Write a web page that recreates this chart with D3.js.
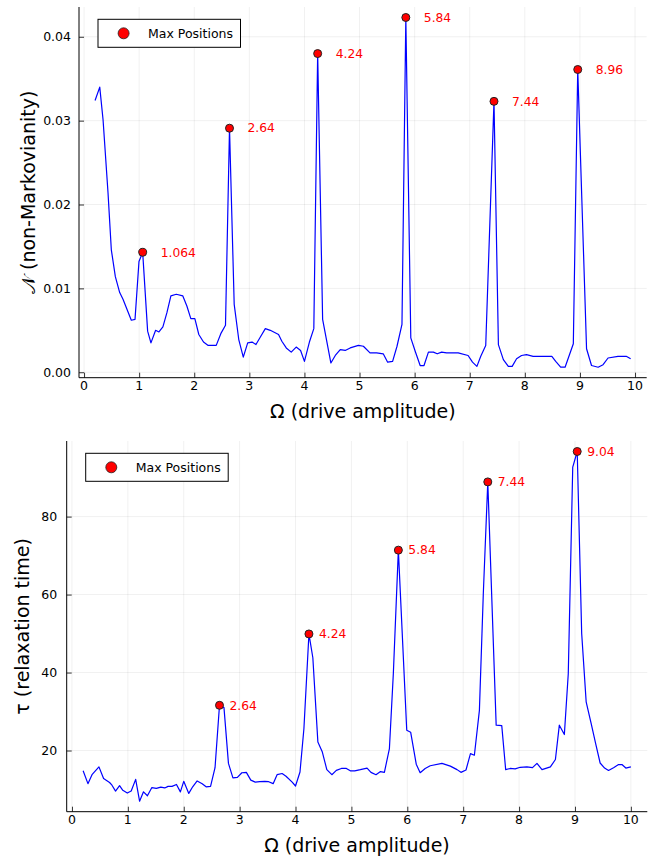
<!DOCTYPE html>
<html>
<head>
<meta charset="utf-8">
<script src="https://cdn.jsdelivr.net/npm/d3@7"></script>
<style>
  html, body { margin: 0; padding: 0; background: #fff; }
  svg { display: block; font-family: "DejaVu Sans", sans-serif; }
</style>
</head>
<body>
<svg id="chart" width="663" height="860"></svg>
<script>
// Non-Markovianity measure versus drive amplitude
const omegaN = [0.20,0.285,0.345,0.435,0.495,0.568,0.647,0.707,0.858,0.925,0.997,1.064,1.154,1.214,1.299,1.359,1.431,1.504,1.576,1.674,1.793,1.866,1.938,2.011,2.083,2.168,2.253,2.399,2.482,2.567,2.64,2.725,2.808,2.89,2.97,3.05,3.12,3.20,3.29,3.38,3.53,3.59,3.67,3.76,3.85,3.93,4.00,4.09,4.17,4.24,4.33,4.48,4.56,4.65,4.74,4.83,4.98,5.07,5.19,5.31,5.43,5.51,5.60,5.68,5.77,5.84,5.93,6.01,6.10,6.17,6.25,6.34,6.41,6.49,6.58,6.79,6.97,7.05,7.13,7.20,7.29,7.44,7.52,7.61,7.70,7.77,7.85,7.94,8.03,8.15,8.49,8.56,8.65,8.73,8.88,8.96,9.12,9.21,9.33,9.42,9.51,9.69,9.84,9.92];
const nonMarkov = [0.0324,0.0340,0.0301,0.0214,0.0146,0.0114,0.0095,0.0087,0.0062,0.0063,0.0132,0.0143,0.0049,0.0035,0.0050,0.0048,0.0054,0.0071,0.0091,0.0093,0.0091,0.0079,0.0064,0.0064,0.0045,0.0036,0.0032,0.0032,0.0046,0.0056,0.0291,0.0081,0.0039,0.0018,0.0035,0.0036,0.0033,0.0042,0.0052,0.0050,0.0045,0.0037,0.0029,0.0024,0.0030,0.0026,0.0013,0.0036,0.0052,0.0380,0.0063,0.0011,0.0020,0.0027,0.0026,0.0029,0.0032,0.0031,0.0023,0.0023,0.0022,0.0012,0.0013,0.0031,0.0057,0.0423,0.0041,0.0025,0.0008,0.0008,0.0024,0.0024,0.0022,0.0024,0.0023,0.0023,0.0020,0.0012,0.0007,0.0019,0.0032,0.0323,0.0033,0.0015,0.0007,0.0007,0.0016,0.0020,0.0021,0.0019,0.0019,0.0013,0.0006,0.0006,0.0034,0.0361,0.0028,0.0008,0.0006,0.0009,0.0017,0.0019,0.0019,0.0016];
const peakOmegaN = [1.064, 2.64, 4.24, 5.84, 7.44, 8.96];
const peakNonMarkov = [0.0143, 0.0291, 0.0380, 0.0423, 0.0323, 0.0361];
const ticksN = [0, 0.01, 0.02, 0.03, 0.04];

// Relaxation time versus drive amplitude
const omegaTau = [0.20,0.286,0.363,0.483,0.566,0.673,0.716,0.78,0.852,0.91,0.99,1.06,1.14,1.21,1.28,1.35,1.43,1.51,1.59,1.66,1.72,1.79,1.87,1.94,2.00,2.09,2.16,2.24,2.33,2.40,2.48,2.56,2.64,2.72,2.80,2.88,2.96,3.04,3.12,3.20,3.28,3.36,3.45,3.52,3.60,3.67,3.76,3.83,3.94,4.00,4.08,4.15,4.24,4.31,4.40,4.48,4.56,4.65,4.73,4.82,4.91,4.98,5.06,5.16,5.28,5.35,5.44,5.52,5.59,5.68,5.75,5.84,5.99,6.06,6.16,6.23,6.32,6.41,6.62,6.77,6.89,6.96,7.05,7.13,7.20,7.29,7.36,7.44,7.59,7.69,7.76,7.84,7.93,8.02,8.14,8.24,8.32,8.41,8.56,8.65,8.72,8.81,8.88,8.96,9.04,9.12,9.20,9.29,9.37,9.45,9.53,9.60,9.69,9.78,9.84,9.91,10.0];
const relaxTau = [14.8,11.5,13.9,15.8,12.8,11.8,11.1,9.6,11.0,9.8,9.1,9.6,12.6,7.0,9.4,8.4,10.5,10.3,10.6,10.4,10.8,10.8,11.3,9.4,12.1,9.0,10.7,12.2,11.5,10.7,10.8,15.6,31.6,31.0,16.7,13.0,13.1,14.3,14.4,12.4,11.9,12.0,12.1,12.0,11.5,13.8,14.1,13.4,11.9,10.9,14.5,25.6,49.9,43.8,22.2,19.6,15.1,13.8,14.9,15.4,15.4,14.8,14.8,15.1,15.5,14.4,13.8,14.6,14.4,20.5,39.7,71.4,25.2,24.7,16.5,14.3,15.4,16.1,16.7,16.0,15.1,14.4,15.0,19.2,18.8,30.3,60.3,88.9,26.5,26.4,15.1,15.4,15.3,15.7,15.8,15.6,16.7,15.1,15.8,17.7,26.5,24.1,39.7,92.7,96.7,50.0,32.5,26.9,21.8,16.8,15.5,14.9,15.6,16.4,16.4,15.5,15.8];
const peakOmegaTau = [2.64, 4.24, 5.84, 7.44, 9.04];
const peakRelaxTau = [31.6, 49.9, 71.4, 88.9, 96.7];
const ticksTau = [20, 40, 60, 80];

const ticksOmega = d3.range(0, 11);
const xTitle = "Ω (drive amplitude)";
const legendText = "Max Positions";

const svg = d3.select("#chart");

// Extent padded by 3% on each side
function padded(values) {
  const [lo, hi] = d3.extent(values);
  const pad = (hi - lo) * 0.03;
  return [lo - pad, hi + pad];
}

function panel(opt) {
  const { box, xs, ys, px, py, yTicks, yFormat, yTitle, yTitleX, labelDx } = opt;
  const x = d3.scaleLinear().domain(padded(xs)).range([box.left, box.right]);
  const y = d3.scaleLinear().domain(padded(ys)).range([box.bottom, box.top]);
  const g = svg.append("g");

  // grid
  const grid = g.append("g").attr("stroke", "rgba(0,0,0,0.1)").attr("stroke-width", 0.6);
  ticksOmega.forEach(t => grid.append("line")
    .attr("x1", x(t)).attr("x2", x(t)).attr("y1", box.top).attr("y2", box.bottom));
  yTicks.forEach(t => grid.append("line")
    .attr("x1", box.left).attr("x2", box.right).attr("y1", y(t)).attr("y2", y(t)));

  // x axis (ticks pointing inward)
  const xAxis = g.append("g")
    .attr("transform", `translate(0,${box.bottom})`)
    .call(d3.axisTop(x).tickValues(ticksOmega).tickSize(5).tickSizeOuter(0).tickFormat(d3.format("d")));
  xAxis.select(".domain").remove();
  xAxis.selectAll("text").remove();
  g.append("g").selectAll("text").data(ticksOmega).join("text")
    .attr("x", d => x(d)).attr("y", box.bottom + 12)
    .attr("text-anchor", "middle").attr("font-size", 12.5).attr("fill", "#000")
    .text(d3.format("d"));

  // y axis
  const yAxis = g.append("g")
    .attr("transform", `translate(${box.left},0)`)
    .call(d3.axisRight(y).tickValues(yTicks).tickSize(5).tickSizeOuter(0));
  yAxis.select(".domain").remove();
  yAxis.selectAll("text").remove();
  g.append("g").selectAll("text").data(yTicks).join("text")
    .attr("x", box.left - opt.yTickGap).attr("y", d => y(d) + 4.5)
    .attr("text-anchor", "end").attr("font-size", 12.5).attr("fill", "#000")
    .text(yFormat);
  g.selectAll(".tick line").attr("stroke", "#000").attr("stroke-width", 0.8);

  // axis lines
  g.append("line").attr("x1", box.left).attr("x2", box.right)
    .attr("y1", box.bottom).attr("y2", box.bottom).attr("stroke", "#000").attr("stroke-width", 1);
  g.append("line").attr("x1", box.left).attr("x2", box.left)
    .attr("y1", box.top).attr("y2", box.bottom).attr("stroke", "#000").attr("stroke-width", 1);

  // series line
  const pts = xs.map((v, i) => [v, ys[i]]);
  g.append("path").datum(pts)
    .attr("fill", "none").attr("stroke", "#0000ff").attr("stroke-width", 1.2)
    .attr("stroke-linejoin", "round")
    .attr("d", d3.line().x(d => x(d[0])).y(d => y(d[1])));

  // maxima markers and labels
  const peaks = px.map((v, i) => [v, py[i]]);
  g.append("g").selectAll("circle").data(peaks).join("circle")
    .attr("cx", d => x(d[0])).attr("cy", d => y(d[1])).attr("r", 4)
    .attr("fill", "#ff0000").attr("stroke", "#222").attr("stroke-width", 1);
  g.append("g").selectAll("text").data(peaks).join("text")
    .attr("x", d => x(d[0]) + labelDx).attr("y", d => y(d[1]) + 4.3)
    .attr("font-size", 12.3).attr("fill", "#ff0000")
    .text(d => String(d[0]));

  // axis titles
  g.append("text").attr("x", (box.left + box.right) / 2).attr("y", opt.xTitleY)
    .attr("text-anchor", "middle").attr("font-size", 19).attr("fill", "#000").text(xTitle);
  g.append("text")
    .attr("transform", `translate(${yTitleX},${(box.top + box.bottom) / 2}) rotate(-90)`)
    .attr("text-anchor", "middle").attr("font-size", 19).attr("fill", "#000").text(yTitle);

  // legend
  const lg = g.append("g").attr("transform", `translate(${box.left + 19},${box.top + 12.3})`);
  lg.append("rect").attr("width", 142.5).attr("height", 28)
    .attr("fill", "#fff").attr("stroke", "#000").attr("stroke-width", 1);
  lg.append("circle").attr("cx", 25.6).attr("cy", 14).attr("r", 5.5)
    .attr("fill", "#ff0000").attr("stroke", "#222").attr("stroke-width", 0.8);
  lg.append("text").attr("x", 50).attr("y", 18.5).attr("font-size", 12.5).attr("fill", "#000").text(legendText);
}

panel({
  box: { left: 79, right: 646.7, top: 7, bottom: 377.7 },
  xs: omegaN, ys: nonMarkov, px: peakOmegaN, py: peakNonMarkov,
  yTicks: ticksN, yFormat: d3.format(".2f"), yTickGap: 8,
  yTitle: "𝒩 (non-Markovianity)", yTitleX: 35, xTitleY: 418, labelDx: 18
});

panel({
  box: { left: 66.7, right: 647.3, top: 441, bottom: 811.7 },
  xs: omegaTau, ys: relaxTau, px: peakOmegaTau, py: peakRelaxTau,
  yTicks: ticksTau, yFormat: d3.format("d"), yTickGap: 9.5,
  yTitle: "τ (relaxation time)", yTitleX: 29, xTitleY: 852, labelDx: 10
});
</script>
</body>
</html>
